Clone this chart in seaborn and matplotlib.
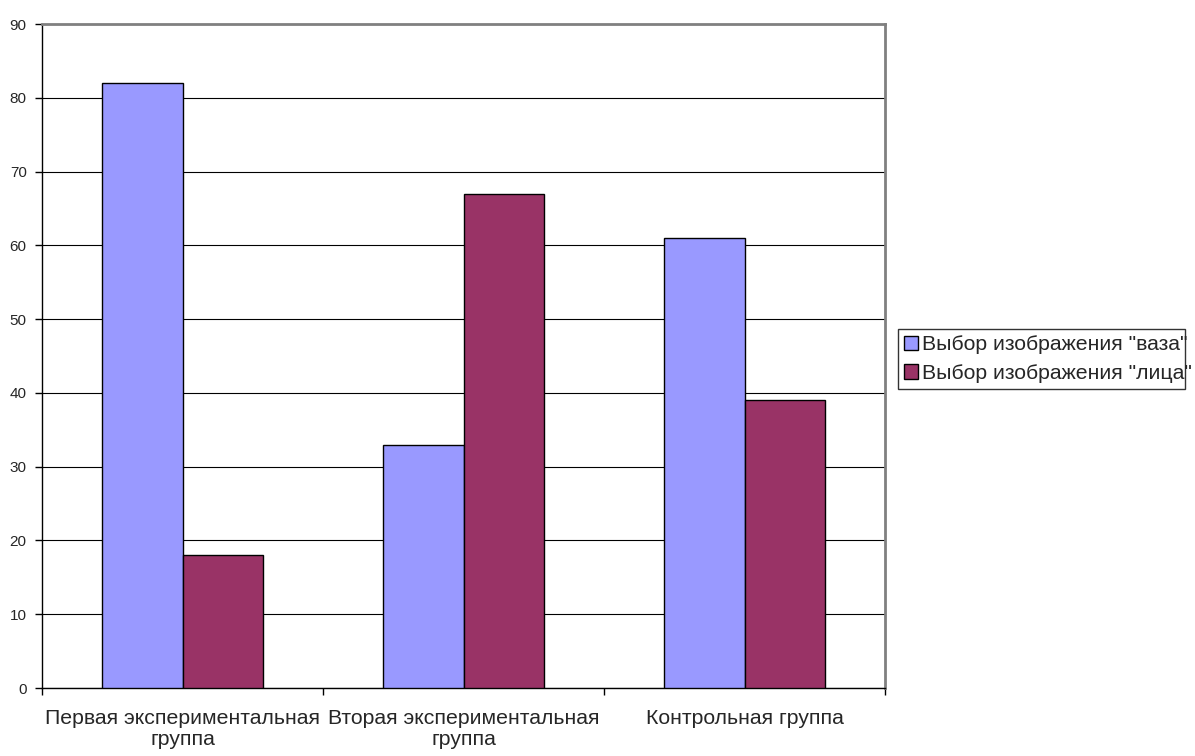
import numpy as np
import pandas as pd
import seaborn as sns
import matplotlib.pyplot as plt

groups = ["Первая экспериментальная\nгруппа", "Вторая экспериментальная\nгруппа", "Контрольная группа"]
series = ['Выбор изображения "ваза"', 'Выбор изображения "лица"']
vase = [82, 33, 61]
faces = [18, 67, 39]
yticks = list(range(0, 100, 10))

df = pd.DataFrame({
    "group": groups * 2,
    "choice": [series[0]] * 3 + [series[1]] * 3,
    "value": vase + faces,
})

sns.set_style("white")
plt.rcParams['font.family'] = ['Liberation Sans', 'DejaVu Sans']

fig = plt.figure(figsize=(11.95, 7.56), dpi=100)
ax = fig.add_axes([42 / 1195, 1 - 688 / 756, (885 - 42) / 1195, (688 - 24) / 756])

sns.barplot(data=df, x="group", y="value", hue="choice", order=groups, hue_order=series,
            palette=["#9999FF", "#993366"], width=0.574, edgecolor="black", linewidth=1,
            saturation=1, ax=ax, zorder=3)

ax.set_xlim(-0.5, 2.5)
ax.set_ylim(0, 90)
ax.set_yticks(yticks)
ax.yaxis.grid(True, color="black", linewidth=0.8, zorder=0)
ax.set_axisbelow(True)
ax.set_xlabel("")
ax.set_ylabel("")

# category divider ticks like the original
ax.set_xticks([-0.5, 0.5, 1.5, 2.5], minor=True)
ax.tick_params(axis="x", which="minor", length=5, width=1, color="black", direction="out", bottom=True)
ax.tick_params(axis="x", which="major", length=0, labelsize=15.3, pad=15)
ax.tick_params(axis="y", length=5, width=1, color="black", direction="out", left=True, labelsize=11, pad=6)
for lbl in ax.get_xticklabels():
    lbl.set_linespacing(1.15)

for side in ["left", "bottom"]:
    ax.spines[side].set_color("black")
    ax.spines[side].set_linewidth(1)
for side in ["top", "right"]:
    ax.spines[side].set_color("#808080")
    ax.spines[side].set_linewidth(2)

ax.get_legend().remove()
handles, labels = ax.get_legend_handles_labels()
leg = fig.legend(handles, labels, loc="upper left", mode="expand",
                 bbox_to_anchor=(898 / 1195, 1 - 389 / 756, (1185 - 898) / 1195, 60 / 756),
                 fontsize=15.3, frameon=True, fancybox=False, edgecolor="black",
                 handlelength=0.65, handleheight=0.65, handletextpad=0.2,
                 borderpad=0.3, labelspacing=0.45, borderaxespad=0)
leg.get_frame().set_linewidth(1)

fig.savefig("out.png", dpi=100)
